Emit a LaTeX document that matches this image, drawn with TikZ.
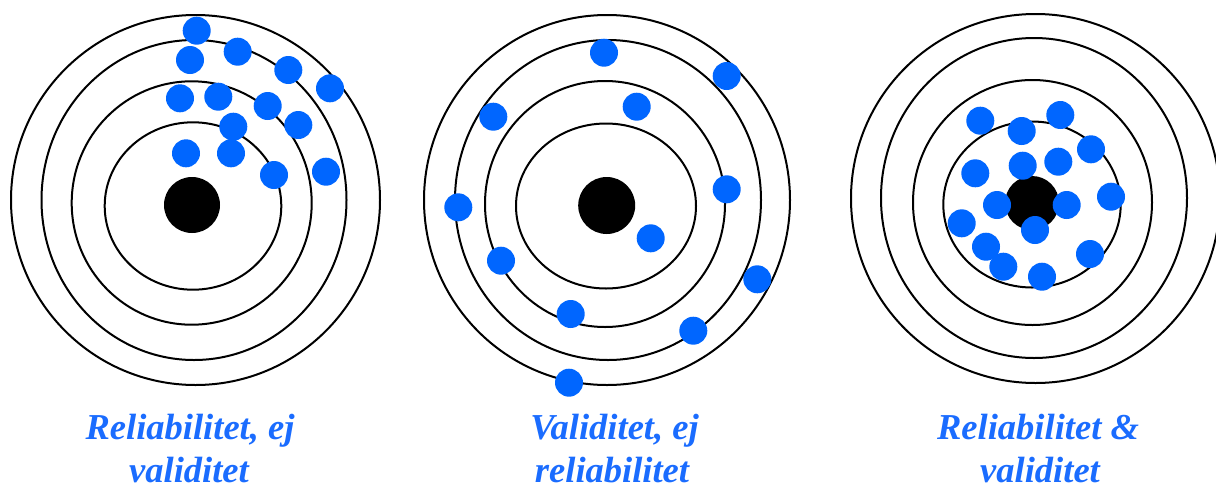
\documentclass[tikz,border=0pt]{standalone}
\usepackage{fontspec}
\setmainfont{Liberation Serif}
\definecolor{dotblue}{HTML}{0066FF}
\definecolor{txtblue}{HTML}{1A6CFF}
\tikzset{
  ring/.style={draw=black, line width=2pt},
  bull/.style={fill=black},
  dot/.style={fill=dotblue},
  lbl/.style={anchor=base, text=txtblue, inner sep=0pt,
    font=\fontsize{36.5}{40}\selectfont\bfseries\itshape}
}
\begin{document}
\begin{tikzpicture}[x=1pt,y=-1pt]
\useasboundingbox (0,0) rectangle (1216,488);
\fill[white] (0,0) rectangle (1216,488);
% Target 1
\draw[ring] (195.5,200) ellipse [x radius=184.5, y radius=185];
\draw[ring] (194,200) ellipse [x radius=152.5, y radius=160];
\draw[ring] (191.7,203) ellipse [x radius=120, y radius=121.7];
\draw[ring] (193,206) ellipse [x radius=88.3, y radius=83.7];
\fill[bull] (192,205) circle [radius=28];
\foreach \x/\y in {196.7/30.7, 190/60, 237.7/51.7, 288.3/70, 330/88.3, 180/98.3, 218.3/96.7, 267.7/106, 298.3/125, 233.3/126.7, 186/153.3, 231/153.3, 274/175, 326/171.7}
  \fill[dot] (\x,\y) circle [radius=14];
% Target 2
\draw[ring] (607,200) ellipse [x radius=183, y radius=185];
\draw[ring] (608,200) ellipse [x radius=153, y radius=160];
\draw[ring] (605,204) ellipse [x radius=120, y radius=123];
\draw[ring] (606,206) ellipse [x radius=90, y radius=82.5];
\fill[bull] (606.7,205.5) circle [radius=28.5];
\foreach \x/\y in {604/52.7, 726.7/76, 493.3/116.7, 636.7/106.7, 458.3/207.3, 726.7/189.3, 650.7/238.3, 501/260.7, 757.3/279.3, 570.7/314, 693.3/330.7, 569/382.7}
  \fill[dot] (\x,\y) circle [radius=14];
% Target 3
\draw[ring] (1035.5,198.5) ellipse [x radius=184.5, y radius=184.5];
\draw[ring] (1034,198) ellipse [x radius=153, y radius=160];
\draw[ring] (1032.5,202.5) ellipse [x radius=119.5, y radius=122.5];
\draw[ring] (1032,204.5) ellipse [x radius=88.7, y radius=83];
\fill[bull] (1032,203) circle [radius=27];
\foreach \x/\y in {980.3/120.7, 1021.7/131, 1060.3/115, 1091/149.3, 975.3/173.3, 1022.7/165.7, 1058.3/161.7, 1111/196.7, 997/205, 1066.7/205, 961.7/223.3, 1035/230, 986/246.7, 1003.3/266.7, 1090/254, 1042/276.7}
  \fill[dot] (\x,\y) circle [radius=14];
% Labels
\node[lbl] (l1a) at (190,439) {Reliabilitet, ej};
\node[lbl] (l1b) at (189,482) {validitet};
\node[lbl] (l2a) at (614.5,439) {Validitet, ej};
\node[lbl] (l2b) at (612,482) {reliabilitet};
\node[lbl] (l3a) at (1038,439) {Reliabilitet \&};
\node[lbl] (l3b) at (1040,482) {validitet};
\end{tikzpicture}
\end{document}
